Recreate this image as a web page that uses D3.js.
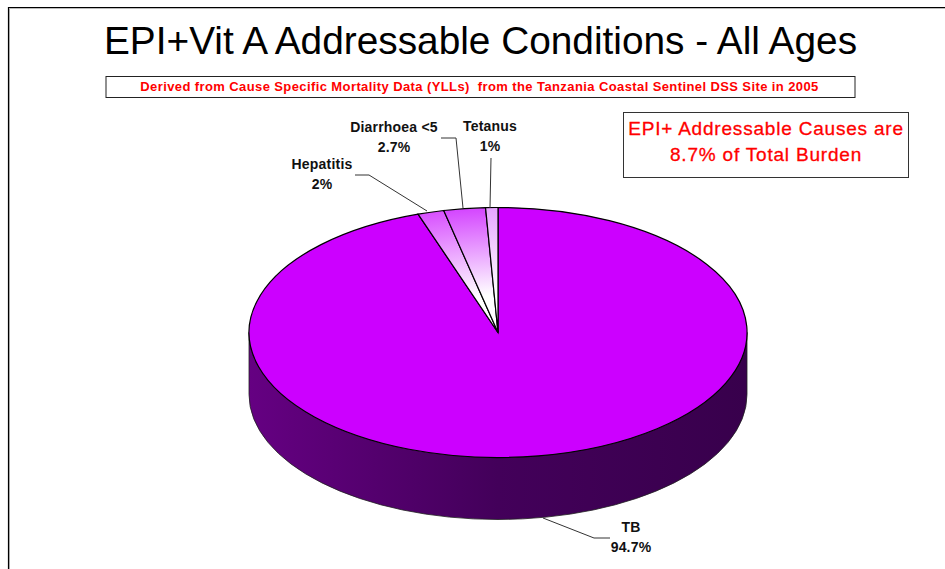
<!DOCTYPE html>
<html><head><meta charset="utf-8">
<script src="https://cdn.jsdelivr.net/npm/d3@7/dist/d3.min.js"></script>
<style>html,body{margin:0;padding:0;background:#fff;overflow:hidden}svg{display:block}
text{font-family:"Liberation Sans",Arial,sans-serif}</style></head><body>
<svg id="c" width="945" height="569"></svg>
<script>
const categories = ["TB","Hepatitis","Diarrhoea <5","Tetanus"];
const values = [94.8,1.7,2.7,0.8];
const valueLabels = ["94.7%","2%","2.7%","1%"];
const titleText = "EPI+Vit A Addressable Conditions - All Ages";
const subtitleText = "Derived from Cause Specific Mortality Data (YLLs)  from the Tanzania Coastal Sentinel DSS Site in 2005";
const noteLines = ["EPI+ Addressable Causes are","8.7% of Total Burden"];
const rimColors = ["#cc00ff","#d850ff","#d445ff","#e6a6ff"];
const hubColors = ["#cc00ff","#ffffff","#ffffff","#ffffff"];

const svg = d3.select("#c");
const cx=498,cy=332.5,rx=249,ry=125,depth=62;

// page frame
svg.append("path").attr("d","M9.5 569V8.5H945").attr("fill","none").attr("stroke","#bbb").attr("stroke-width",1);
svg.append("path").attr("d","M8.5 569V7.5H945").attr("fill","none").attr("stroke","#000").attr("stroke-width",1.2);

svg.append("text").attr("x",480.5).attr("y",54).attr("text-anchor","middle").attr("font-size",38.8).attr("fill","#000").text(titleText);

svg.append("rect").attr("x",106).attr("y",76.5).attr("width",749).attr("height",21).attr("fill","#fff").attr("stroke","#222");
svg.append("text").attr("x",479.5).attr("y",91).attr("text-anchor","middle").attr("font-size",13).attr("font-weight","bold").attr("letter-spacing",0.4).attr("fill","#f00").style("white-space","pre").text(subtitleText);

svg.append("rect").attr("x",623.5).attr("y",112.5).attr("width",285).attr("height",65).attr("fill","#fff").attr("stroke","#333");
svg.selectAll("text.note").data(noteLines).join("text").attr("class","note")
  .attr("x",766).attr("y",(d,i)=>135+i*26).attr("text-anchor","middle").attr("font-size",19).attr("fill","#f00").attr("stroke","#f00").attr("stroke-width",0.3).attr("letter-spacing",0.8).text(d=>d);

const defs = svg.append("defs");
const sideGrad = defs.append("linearGradient").attr("id","side").attr("x1",0).attr("x2",1).attr("y1",0).attr("y2",0);
[[0,"#650082"],[0.5,"#43005a"],[1,"#38004c"]].forEach(s=>sideGrad.append("stop").attr("offset",s[0]).attr("stop-color",s[1]));

// side wall of the disc
svg.append("path")
  .attr("d",`M${cx-rx} ${cy}A${rx} ${ry} 0 0 0 ${cx+rx} ${cy}V${cy+depth}A${rx} ${ry} 0 0 1 ${cx-rx} ${cy+depth}Z`)
  .attr("fill","url(#side)").attr("stroke","#222").attr("stroke-width",0.8);

// top face: unit arcs scaled to the ellipse
const pie = d3.pie().sort(null).startAngle(0).endAngle(2*Math.PI);
const arcs = pie(values);
const arc = d3.arc().innerRadius(0).outerRadius(1);
arcs.forEach((a,i)=>{
  const g = defs.append("radialGradient").attr("id","s"+i).attr("gradientUnits","userSpaceOnUse").attr("cx",0).attr("cy",0).attr("r",1);
  g.append("stop").attr("offset",0.3).attr("stop-color",hubColors[i]);
  g.append("stop").attr("offset",1).attr("stop-color",rimColors[i]);
});
const topFace = svg.append("g").attr("transform",`translate(${cx},${cy}) scale(${rx},${ry})`);
topFace.selectAll("path").data(arcs).join("path")
  .attr("d",arc)
  .attr("fill",(d,i)=>`url(#s${i})`)
  .attr("stroke","#000").attr("stroke-width",1.2)
  .attr("vector-effect","non-scaling-stroke");

// leader lines and labels
const leaders = [
  [[543,518],[594,538],[610,538]],
  [[427,211],[369,175],[355,175]],
  [[463,208],[456,138],[441,138]],
  [[490,208],[491,158]]
];
const labelAt = [[631,532,552],[322,169,189],[394,132,152],[490,131,151]];
const line = d3.line();
svg.selectAll("path.leader").data(leaders).join("path").attr("class","leader")
  .attr("d",line).attr("fill","none").attr("stroke","#333").attr("stroke-width",1);
categories.forEach((c,i)=>{
  const p = labelAt[i];
  [[c,p[1]],[valueLabels[i],p[2]]].forEach(t=>{
    svg.append("text").attr("x",p[0]).attr("y",t[1]).attr("text-anchor","middle")
      .attr("font-size",14).attr("font-weight","bold").attr("letter-spacing",0.2).attr("fill","#111").text(t[0]);
  });
});
</script></body></html>
